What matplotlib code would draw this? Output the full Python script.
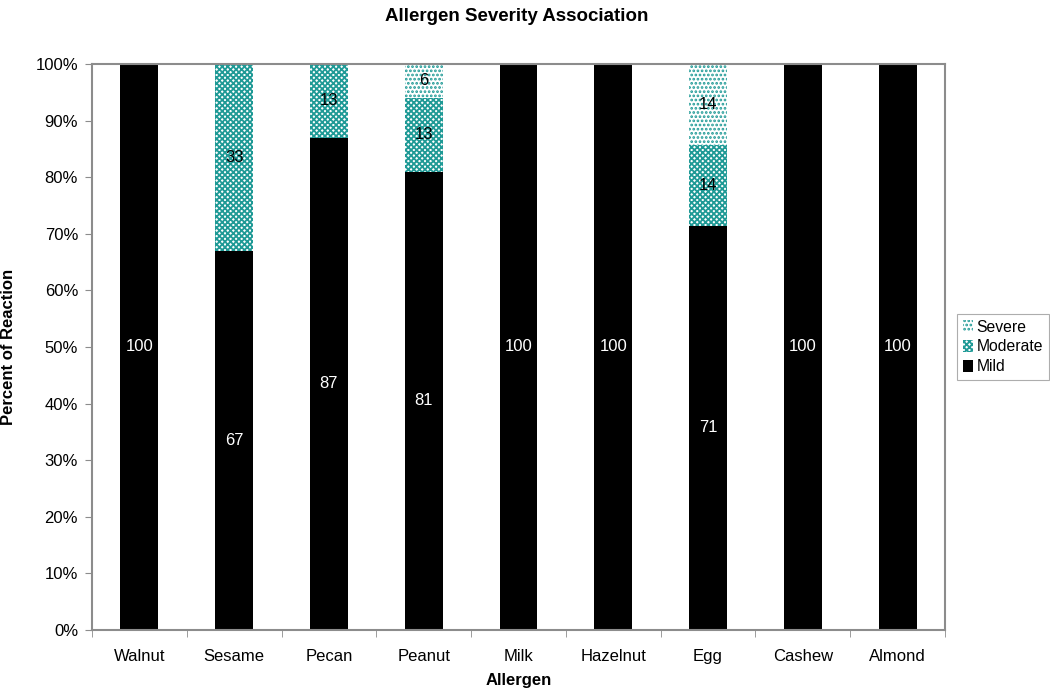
import matplotlib.pyplot as plt
import numpy as np

plt.rcParams['font.family'] = ['Liberation Sans', 'DejaVu Sans']
plt.rcParams['hatch.linewidth'] = 1.3

# Data (percent of reactions per severity)
allergens = ['Walnut', 'Sesame', 'Pecan', 'Peanut', 'Milk', 'Hazelnut', 'Egg', 'Cashew', 'Almond']
mild = [100, 67, 87, 81, 100, 100, 71.4, 100, 100]
moderate = [0, 33, 13, 13, 0, 0, 14.3, 0, 0]
severe = [0, 0, 0, 6, 0, 0, 14.3, 0, 0]

teal = '#1f9a96'
gray = '#8c8c8c'
fs = 12

fig = plt.figure(figsize=(10.5, 6.9), dpi=100)
ax = fig.add_axes([92 / 1050, 1 - 630 / 690, (945 - 92) / 1050, (630 - 64) / 690])

x = np.arange(len(allergens))
width = 0.4

b_mild = ax.bar(x, mild, width, color='black', edgecolor='black', linewidth=0, label='Mild')
b_mod = ax.bar(x, moderate, width, bottom=mild, color='white', edgecolor=teal,
               hatch='xxxxxx', linewidth=0, label='Moderate')
bottom2 = np.array(mild) + np.array(moderate)
b_sev = ax.bar(x, severe, width, bottom=bottom2, color='white', edgecolor=teal,
               hatch='....', linewidth=0, label='Severe')

# segment labels
for i in range(len(x)):
    if mild[i] > 0:
        ax.text(x[i], mild[i] / 2, f'{mild[i]:.0f}', ha='center', va='center',
                color='white', fontsize=fs)
    if moderate[i] > 0:
        ax.text(x[i], mild[i] + moderate[i] / 2, f'{moderate[i]:.0f}', ha='center',
                va='center', color='black', fontsize=fs)
    if severe[i] > 0:
        ax.text(x[i], bottom2[i] + severe[i] / 2, f'{severe[i]:.0f}', ha='center',
                va='center', color='black', fontsize=fs)

ax.set_xlim(-0.5, len(allergens) - 0.5)
ax.set_ylim(0, 100)
ax.set_yticks(np.arange(0, 101, 10))
ax.set_yticklabels([f'{v}%' for v in range(0, 101, 10)], fontsize=fs)
ax.set_xticks(x)
ax.set_xticklabels(allergens, fontsize=fs)
ax.tick_params(axis='x', length=0, pad=14)
ax.set_xticks(np.arange(-0.5, len(allergens), 1), minor=True)
ax.tick_params(axis='x', which='minor', length=5, color=gray, direction='out')
ax.tick_params(axis='y', length=5, color=gray, direction='out', pad=5)

for s in ax.spines.values():
    s.set_color(gray)
    s.set_linewidth(1.5)

ax.set_xlabel('Allergen', fontsize=fs, fontweight='bold', labelpad=6)
ax.set_ylabel('Percent of Reaction', fontsize=fs, fontweight='bold', labelpad=14)
fig.text(517 / 1050, 0.988, 'Allergen Severity Association', ha='center', va='top',
         fontsize=13.5, fontweight='bold')

handles = [b_sev, b_mod, b_mild]
leg = ax.legend(handles, ['Severe', 'Moderate', 'Mild'], loc='center left',
                bbox_to_anchor=(1.014, 0.5), fontsize=11.3, frameon=True, fancybox=False,
                handlelength=0.6, handleheight=0.8, handletextpad=0.25,
                borderpad=0.4, borderaxespad=0, labelspacing=0.3)
leg.get_frame().set_edgecolor('#999999')
leg.get_frame().set_linewidth(0.8)

fig.savefig('out.png', dpi=100)
